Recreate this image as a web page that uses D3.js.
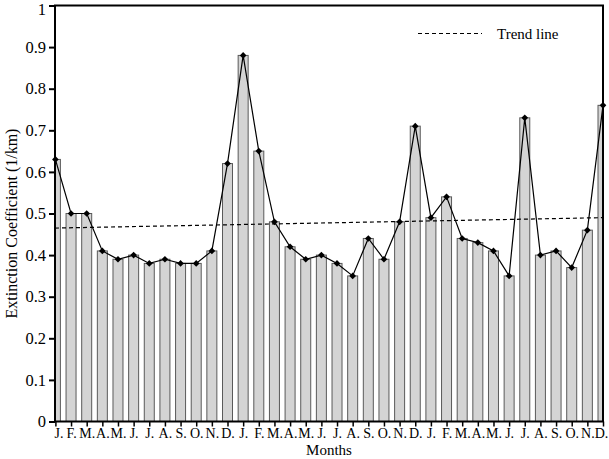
<!DOCTYPE html>
<html>
<head>
<meta charset="utf-8">
<script src="https://cdn.jsdelivr.net/npm/d3@7"></script>
<style>
  body { margin: 0; background: #fff; }
  text { font-family: "Liberation Serif", "Times New Roman", serif; fill: #000; }
</style>
</head>
<body>
<div id="chart"></div>
<script>
// data
const months = ['J.', 'F.', 'M.', 'A.', 'M.', 'J.', 'J.', 'A.', 'S.', 'O.', 'N.', 'D.',
  'J.', 'F.', 'M.', 'A.', 'M.', 'J.', 'J.', 'A.', 'S.', 'O.', 'N.', 'D.',
  'J.', 'F.', 'M.', 'A.', 'M.', 'J.', 'J.', 'A.', 'S.', 'O.', 'N.', 'D.'];
const extinction = [0.63, 0.50, 0.50, 0.41, 0.39, 0.40, 0.38, 0.39, 0.38, 0.38, 0.41, 0.62,
  0.88, 0.65, 0.48, 0.42, 0.39, 0.40, 0.38, 0.35, 0.44, 0.39, 0.48, 0.71,
  0.49, 0.54, 0.44, 0.43, 0.41, 0.35, 0.73, 0.40, 0.41, 0.37, 0.46, 0.76];
const trendEnds = [0.465, 0.49];
const yTicks = [0, 0.1, 0.2, 0.3, 0.4, 0.5, 0.6, 0.7, 0.8, 0.9, 1];

const W = 609, H = 459;
const mLeft = 55, mRight = 603, mTop = 5.5, mBottom = 421.5;

const svg = d3.select('#chart').append('svg')
  .attr('width', W)
  .attr('height', H);

const idx = d3.range(months.length);
const x = d3.scalePoint()
  .domain(idx)
  .range([mLeft + 0.4, mRight]);
const y = d3.scaleLinear()
  .domain([0, 1])
  .range([mBottom, mTop]);

svg.append('clipPath').attr('id', 'plot')
  .append('rect')
  .attr('x', mLeft).attr('y', mTop)
  .attr('width', mRight - mLeft).attr('height', mBottom - mTop);

const g = svg.append('g').attr('clip-path', 'url(#plot)');

// bars
const bw = 10;
g.selectAll('rect.bar')
  .data(extinction)
  .join('rect')
  .attr('class', 'bar')
  .attr('x', (d, i) => x(i) - bw / 2)
  .attr('y', d => y(d))
  .attr('width', bw)
  .attr('height', d => y(0) - y(d))
  .attr('fill', '#d4d4d4')
  .attr('stroke', '#5a5a5a')
  .attr('stroke-width', 1);

// trend line
g.append('line')
  .attr('x1', mLeft).attr('x2', mRight)
  .attr('y1', y(trendEnds[0])).attr('y2', y(trendEnds[1]))
  .attr('stroke', '#000')
  .attr('stroke-width', 1.2)
  .attr('stroke-dasharray', '4,3');

// line + markers
const line = d3.line()
  .x((d, i) => x(i))
  .y(d => y(d));
svg.append('path')
  .datum(extinction)
  .attr('fill', 'none')
  .attr('stroke', '#000')
  .attr('stroke-width', 1.2)
  .attr('d', line);

svg.selectAll('path.pt')
  .data(extinction)
  .join('path')
  .attr('class', 'pt')
  .attr('d', d3.symbol(d3.symbolSquare, 22))
  .attr('transform', (d, i) => `translate(${x(i)},${y(d)}) rotate(45)`)
  .attr('fill', '#000');

// frame
svg.append('rect')
  .attr('x', mLeft).attr('y', mTop)
  .attr('width', mRight - mLeft).attr('height', mBottom - mTop)
  .attr('fill', 'none')
  .attr('stroke', '#000')
  .attr('stroke-width', 2);

// y axis
const yAxis = svg.append('g')
  .attr('transform', `translate(${mLeft},0)`)
  .call(d3.axisLeft(y).tickValues(yTicks).tickFormat(d3.format('')).tickSize(6).tickPadding(3));
yAxis.select('.domain').remove();
yAxis.selectAll('line').attr('stroke', '#000').attr('stroke-width', 2);
yAxis.selectAll('text')
  .style('font-family', '"Liberation Serif", serif')
  .style('font-size', '16.5px')
  .attr('fill', '#000');
yAxis.selectAll('.tick').filter(d => d === 1).select('text').attr('dy', '0.55em');

// x axis
const xAxis = svg.append('g')
  .attr('transform', `translate(0,${mBottom})`)
  .call(d3.axisBottom(x).tickFormat(i => months[i]).tickSize(5).tickPadding(2));
xAxis.select('.domain').remove();
xAxis.selectAll('line').attr('stroke', '#000').attr('stroke-width', 1.5);
xAxis.selectAll('text')
  .style('font-family', '"Liberation Serif", serif')
  .style('font-size', '14px')
  .attr('fill', '#000');
xAxis.selectAll('.tick').filter(i => i === 0).select('text').attr('dx', 3);
xAxis.selectAll('.tick').filter(i => i === months.length - 1).select('text').attr('dx', -2);

// titles
svg.append('text')
  .attr('transform', `translate(17,${(mTop + mBottom) / 2 + 10}) rotate(-90)`)
  .attr('text-anchor', 'middle')
  .style('font-size', '16px')
  .text('Extinction Coefficient (1/km)');

svg.append('text')
  .attr('x', (mLeft + mRight) / 2)
  .attr('y', 455)
  .attr('text-anchor', 'middle')
  .style('font-size', '15px')
  .text('Months');

// legend
svg.append('line')
  .attr('x1', 418).attr('x2', 482)
  .attr('y1', 33.5).attr('y2', 33.5)
  .attr('stroke', '#000')
  .attr('stroke-width', 1.2)
  .attr('stroke-dasharray', '4,3');
svg.append('text')
  .attr('x', 497)
  .attr('y', 38.5)
  .style('font-size', '15px')
  .text('Trend line');
</script>
</body>
</html>
